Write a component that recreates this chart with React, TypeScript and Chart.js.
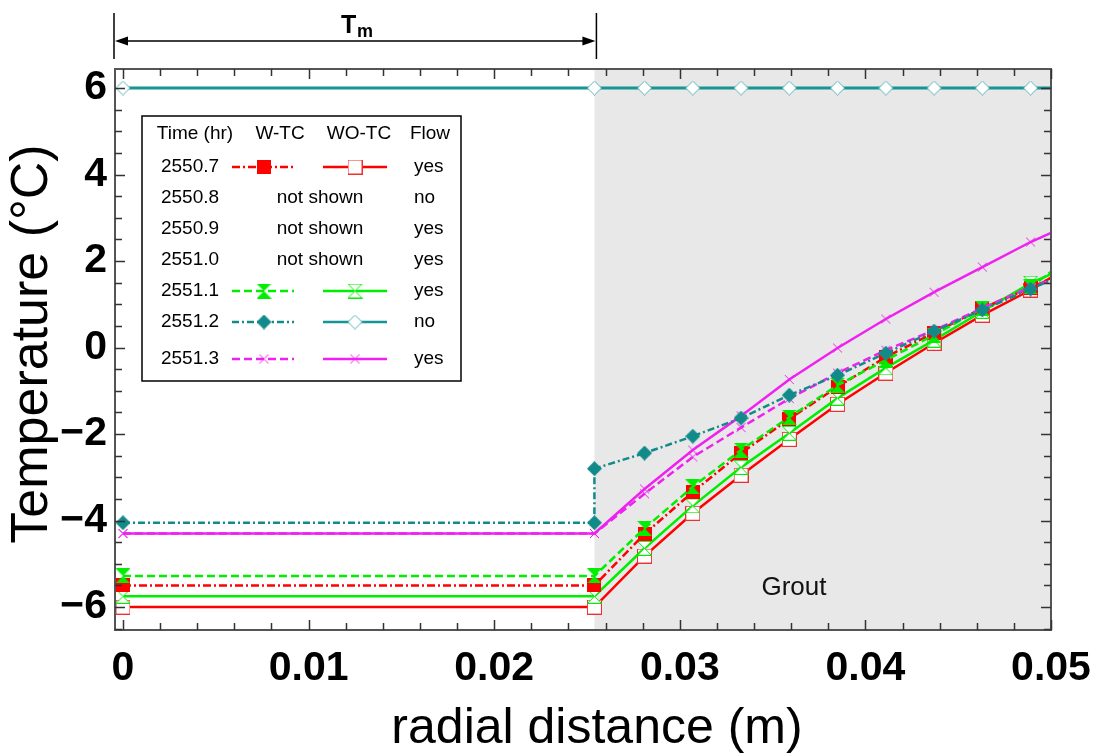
import React, { useEffect, useRef } from 'react';
import { Chart, registerables } from 'chart.js';
Chart.register(...registerables);

// ---------- data ----------
const radialX = [0, 0.0254, 0.0281, 0.0307, 0.0333, 0.0359, 0.0385, 0.0411, 0.0437, 0.0463, 0.0489, 0.05];
const radialXTeal = [0, 0.0254, 0.0254, 0.0281, 0.0307, 0.0333, 0.0359, 0.0385, 0.0411, 0.0437, 0.0463, 0.0489, 0.05];

const t25507W = [-5.5, -5.5, -4.31, -3.34, -2.44, -1.65, -0.91, -0.22, 0.34, 0.91, 1.38, 1.6];
const t25507WO = [-6.0, -6.0, -4.82, -3.83, -2.95, -2.12, -1.31, -0.59, 0.1, 0.75, 1.33, 1.62];
const t25511W = [-5.28, -5.28, -4.18, -3.22, -2.37, -1.61, -0.87, -0.29, 0.29, 0.91, 1.4, 1.75];
const t25511WO = [-5.75, -5.75, -4.64, -3.66, -2.77, -1.98, -1.17, -0.47, 0.17, 0.84, 1.49, 1.7];
const t25512W = [-4.05, -4.05, -2.8, -2.44, -2.05, -1.63, -1.1, -0.64, -0.13, 0.38, 0.87, 1.35, 1.56];
const t25512WO = [6, 6, 6, 6, 6, 6, 6, 6, 6, 6, 6, 6];
const t25513W = [-4.3, -4.3, -3.38, -2.53, -1.85, -1.18, -0.59, -0.06, 0.4, 0.91, 1.4, 1.56];
const t25513WO = [-4.3, -4.3, -3.27, -2.37, -1.58, -0.74, -0.01, 0.66, 1.28, 1.86, 2.44, 2.65];

const legendTimes = ['2550.7', '2550.8', '2550.9', '2551.0', '2551.1', '2551.2', '2551.3'];
const legendFlow = ['yes', 'no', 'yes', 'yes', 'yes', 'no', 'yes'];

const xTicks = [0, 0.01, 0.02, 0.03, 0.04, 0.05];
const xTickLabels = ['0', '0.01', '0.02', '0.03', '0.04', '0.05'];
const yTicks = [-6, -4, -2, 0, 2, 4, 6];
const yTickLabels = ['\u22126', '\u22124', '\u22122', '0', '2', '4', '6'];
const groutStart = 0.0254;

const X_MIN = -0.00043, X_MAX = 0.05;
const Y_MIN = -6.53, Y_MAX = 6.44;

const RED = '#ff0000';
const GREEN = '#00ee00';
const TEAL = '#138a8a';
const TEAL_SOLID = '#179494';
const MAGENTA = '#f020f0';

const FONT = '"Liberation Sans", Arial, Helvetica, sans-serif';

function makeMarker(kind: string, color: string, w: number, h: number): HTMLCanvasElement {
  const c = document.createElement('canvas');
  c.width = w; c.height = h;
  const g = c.getContext('2d') as CanvasRenderingContext2D;
  g.lineWidth = 1;
  g.strokeStyle = color;
  g.fillStyle = color;
  const p = 0.5;
  if (kind === 'square') {
    g.fillRect(0, 0, w, h);
  } else if (kind === 'squareOpen') {
    g.fillStyle = '#fff';
    g.fillRect(p, p, w - 1, h - 1);
    g.strokeRect(p, p, w - 1, h - 1);
  } else if (kind === 'hourglass' || kind === 'hourglassOpen') {
    const i = kind === 'hourglass' ? 0 : p;
    g.beginPath();
    g.moveTo(i, i); g.lineTo(w - i, i); g.lineTo(w / 2, h / 2); g.closePath();
    g.moveTo(i, h - i); g.lineTo(w - i, h - i); g.lineTo(w / 2, h / 2); g.closePath();
    if (kind === 'hourglass') g.fill();
    else { g.fillStyle = '#fff'; g.fill(); g.stroke(); }
  } else if (kind === 'diamond' || kind === 'diamondOpen') {
    const i = kind === 'diamond' ? 0 : p;
    g.beginPath();
    g.moveTo(w / 2, i); g.lineTo(w - i, h / 2); g.lineTo(w / 2, h - i); g.lineTo(i, h / 2); g.closePath();
    if (kind === 'diamond') g.fill();
    else { g.fillStyle = '#fff'; g.fill(); g.stroke(); }
  } else if (kind === 'cross') {
    g.beginPath();
    g.moveTo(1, 1); g.lineTo(w - 1, h - 1);
    g.moveTo(w - 1, 1); g.lineTo(1, h - 1);
    g.stroke();
  }
  return c;
}

export default function App() {
  const ref = useRef<HTMLCanvasElement | null>(null);

  useEffect(() => {
    const canvas = ref.current;
    if (!canvas) return;

    const mk = {
      sqF: makeMarker('square', RED, 14, 14),
      sqO: makeMarker('squareOpen', '#f03030', 15, 15),
      hgF: makeMarker('hourglass', GREEN, 15, 15),
      hgO: makeMarker('hourglassOpen', GREEN, 15, 15),
      dmF: makeMarker('diamond', TEAL, 15, 15),
      dmO: makeMarker('diamondOpen', '#5ab4b4', 15, 15),
      cr: makeMarker('cross', MAGENTA, 11, 11),
    };

    const legendStyles: Record<string, any> = {
      '2550.7': { color: RED, wDash: [8, 3, 2, 3], wMark: mk.sqF, woMark: mk.sqO },
      '2551.1': { color: GREEN, wDash: [8, 4], wMark: mk.hgF, woMark: mk.hgO },
      '2551.2': { color: TEAL, woColor: TEAL_SOLID, wDash: [7, 3, 2, 3], wMark: mk.dmF, woMark: mk.dmO },
      '2551.3': { color: MAGENTA, wDash: [8, 4], wMark: mk.cr, woMark: mk.cr },
    };

    const ds = (label: string, xs: number[], ys: number[], color: string, dash: number[], marker: HTMLCanvasElement, width: number) => ({
      label,
      data: xs.map((x, i) => ({ x, y: ys[i] })),
      borderColor: color,
      backgroundColor: color,
      borderWidth: width,
      borderDash: dash,
      pointStyle: marker,
      pointRadius: (c: any) => (c.dataIndex === xs.length - 1 ? 0 : 7),
      pointHoverRadius: 7,
      fill: false,
      tension: 0,
    });

    const datasets = [
      ds('2551.2 W-TC', radialXTeal, t25512W, TEAL, [7, 3, 2, 3], mk.dmF, 2.5),
      ds('2551.3 W-TC', radialX, t25513W, MAGENTA, [8, 4], mk.cr, 2.5),
      ds('2551.1 W-TC', radialX, t25511W, GREEN, [8, 4], mk.hgF, 2.5),
      ds('2550.7 W-TC', radialX, t25507W, RED, [8, 3, 2, 3], mk.sqF, 2.5),
      ds('2551.3 WO-TC', radialX, t25513WO, MAGENTA, [], mk.cr, 2.5),
      ds('2551.1 WO-TC', radialX, t25511WO, GREEN, [], mk.hgO, 2.5),
      ds('2550.7 WO-TC', radialX, t25507WO, RED, [], mk.sqO, 2.5),
      ds('2551.2 WO-TC', radialX, t25512WO, TEAL_SOLID, [], mk.dmO, 3),
    ];

    const decor = {
      id: 'decor',
      beforeDatasetsDraw(chart: any) {
        const { ctx, chartArea: a, scales } = chart;
        const gx = scales.x.getPixelForValue(groutStart);
        ctx.save();
        ctx.fillStyle = '#e8e8e8';
        ctx.fillRect(gx, a.top, a.right - gx, a.bottom - a.top);
        ctx.restore();
      },
      afterDraw(chart: any) {
        const { ctx, chartArea: a, scales } = chart;
        const xs = scales.x, ys = scales.y;
        ctx.save();

        // "Grout" label
        ctx.fillStyle = '#111';
        ctx.font = `26px ${FONT}`;
        ctx.textAlign = 'center';
        ctx.textBaseline = 'middle';
        ctx.fillText('Grout', 794, 588);

        // frame
        ctx.strokeStyle = '#555';
        ctx.lineWidth = 2;
        ctx.strokeRect(a.left, a.top, a.right - a.left, a.bottom - a.top);

        // ticks (inward, all four sides)
        ctx.strokeStyle = '#333';
        ctx.lineWidth = 1.5;
        ctx.beginPath();
        for (let k = 0; k <= 25; k++) {
          const v = k * 0.002;
          const px = Math.round(xs.getPixelForValue(v)) + 0.5;
          const len = k % 5 === 0 ? 10 : 7;
          ctx.moveTo(px, a.bottom); ctx.lineTo(px, a.bottom - len);
          ctx.moveTo(px, a.top); ctx.lineTo(px, a.top + len);
        }
        for (let k = -13; k <= 12; k++) {
          const v = k * 0.5;
          if (v < Y_MIN || v > Y_MAX) continue;
          const py = Math.round(ys.getPixelForValue(v)) + 0.5;
          const len = k % 4 === 0 ? 10 : 7;
          ctx.moveTo(a.left, py); ctx.lineTo(a.left + len, py);
          ctx.moveTo(a.right, py); ctx.lineTo(a.right - len, py);
        }
        ctx.stroke();

        // tick labels
        ctx.fillStyle = '#000';
        ctx.font = `bold 41px ${FONT}`;
        ctx.textAlign = 'center';
        ctx.textBaseline = 'middle';
        xTicks.forEach((v, i) => ctx.fillText(xTickLabels[i], xs.getPixelForValue(v), 669));
        ctx.textAlign = 'right';
        yTicks.forEach((v, i) => ctx.fillText(yTickLabels[i], 107, ys.getPixelForValue(v)));

        // axis titles
        ctx.font = `50px ${FONT}`;
        ctx.textAlign = 'center';
        ctx.textBaseline = 'alphabetic';
        ctx.fillText('radial distance (m)', 597, 743);
        ctx.save();
        ctx.translate(47, 344);
        ctx.rotate(-Math.PI / 2);
        ctx.font = `52px ${FONT}`;
        ctx.fillText('Temperature (°C)', 0, 0);
        ctx.restore();

        // Tm dimension arrow
        const xl = a.left - 1;
        const xr = xs.getPixelForValue(groutStart) + 2;
        ctx.strokeStyle = '#000';
        ctx.fillStyle = '#000';
        ctx.lineWidth = 1.5;
        ctx.beginPath();
        ctx.moveTo(xl, 13); ctx.lineTo(xl, 59);
        ctx.moveTo(xr, 13); ctx.lineTo(xr, 59);
        ctx.moveTo(xl + 10, 41); ctx.lineTo(xr - 10, 41);
        ctx.stroke();
        ctx.beginPath();
        ctx.moveTo(xl + 1, 41); ctx.lineTo(xl + 14, 36.5); ctx.lineTo(xl + 14, 45.5); ctx.closePath();
        ctx.moveTo(xr - 1, 41); ctx.lineTo(xr - 14, 36.5); ctx.lineTo(xr - 14, 45.5); ctx.closePath();
        ctx.fill();
        ctx.textAlign = 'left';
        ctx.font = `bold 25px ${FONT}`;
        ctx.fillText('T', 341, 33);
        ctx.font = `bold 18px ${FONT}`;
        ctx.fillText('m', 357, 37);

        // legend table
        const L = 142, T = 116, R = 461, B = 381;
        ctx.fillStyle = '#fff';
        ctx.fillRect(L, T, R - L, B - T);
        ctx.strokeStyle = '#000';
        ctx.lineWidth = 1.5;
        ctx.strokeRect(L, T, R - L, B - T);
        ctx.fillStyle = '#000';
        ctx.font = `19px ${FONT}`;
        ctx.textBaseline = 'middle';
        ctx.textAlign = 'center';
        ctx.fillText('Time (hr)', 195, 134);
        ctx.fillText('W-TC', 280, 134);
        ctx.fillText('WO-TC', 359, 134);
        ctx.fillText('Flow', 430, 134);
        const rowY = [167, 198, 229, 260, 291, 322, 359];
        legendTimes.forEach((t, i) => {
          const y = rowY[i];
          ctx.fillStyle = '#000';
          ctx.textAlign = 'center';
          ctx.setLineDash([]);
          ctx.fillText(t, 190, y);
          ctx.textAlign = 'left';
          ctx.fillText(legendFlow[i], 414, y);
          const st = legendStyles[t];
          if (!st) {
            ctx.textAlign = 'center';
            ctx.fillText('not shown', 320, y);
            return;
          }
          ctx.lineWidth = 2.5;
          ctx.strokeStyle = st.color;
          ctx.setLineDash(st.wDash);
          ctx.beginPath(); ctx.moveTo(232, y); ctx.lineTo(294, y); ctx.stroke();
          ctx.setLineDash([]);
          ctx.drawImage(st.wMark, 264 - st.wMark.width / 2, y - st.wMark.height / 2);
          ctx.strokeStyle = st.woColor || st.color;
          ctx.beginPath(); ctx.moveTo(323, y); ctx.lineTo(387, y); ctx.stroke();
          ctx.drawImage(st.woMark, 355 - st.woMark.width / 2, y - st.woMark.height / 2);
        });
        ctx.restore();
      },
    };

    const chart = new Chart(canvas, {
      type: 'line',
      data: { datasets: datasets as any },
      options: {
        responsive: false,
        animation: false,
        events: [],
        layout: { padding: { top: 69, right: 42, left: 0, bottom: 0 } },
        plugins: { legend: { display: false }, tooltip: { enabled: false } },
        scales: {
          x: {
            type: 'linear',
            min: X_MIN,
            max: X_MAX,
            afterBuildTicks: (s: any) => { s.ticks = xTicks.map((v) => ({ value: v })); },
            afterFit: (s: any) => { s.height = 125; },
            ticks: { display: false },
            grid: { display: false },
            border: { display: false },
          },
          y: {
            type: 'linear',
            min: Y_MIN,
            max: Y_MAX,
            afterBuildTicks: (s: any) => { s.ticks = yTicks.map((v) => ({ value: v })); },
            afterFit: (s: any) => { s.width = 115; },
            ticks: { display: false },
            grid: { display: false },
            border: { display: false },
          },
        },
      } as any,
      plugins: [decor],
    });
    return () => chart.destroy();
  }, []);

  return (
    <div style={{ position: 'absolute', left: 0, top: 0, width: 1093, height: 755, background: '#fff' }}>
      <canvas ref={ref} width={1093} height={755} style={{ display: 'block' }} />
    </div>
  );
}
